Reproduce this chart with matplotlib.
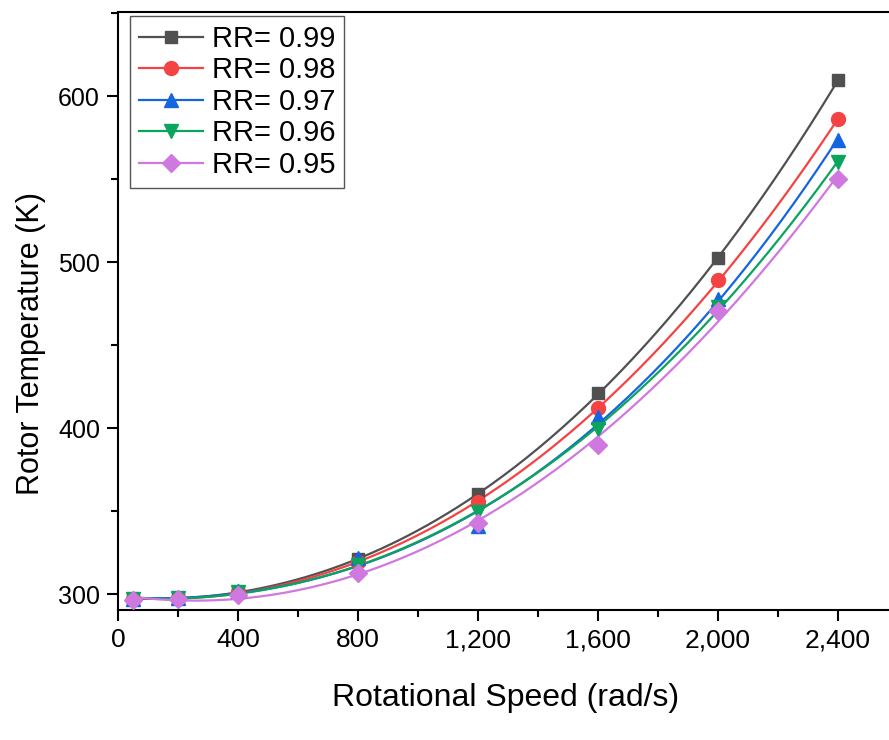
import numpy as np
import matplotlib
matplotlib.use("Agg")
import matplotlib.pyplot as plt
from matplotlib.ticker import MultipleLocator, FuncFormatter
from matplotlib import font_manager

speed = [50, 200, 400, 800, 1200, 1600, 2000, 2400]
rr_labels = ["RR= 0.99", "RR= 0.98", "RR= 0.97", "RR= 0.96", "RR= 0.95"]
temp_099 = [297.2, 297.6, 301.5, 321.0, 360.0, 421.0, 502.5, 609.5]
temp_098 = [297.0, 297.5, 301.0, 319.5, 355.5, 412.0, 489.0, 586.0]
temp_097 = [296.8, 297.4, 301.8, 321.5, 341.0, 406.5, 477.5, 573.5]
temp_096 = [297.0, 297.4, 301.0, 317.5, 349.5, 399.5, 473.0, 560.0]
temp_095 = [296.5, 296.8, 299.5, 312.5, 343.0, 390.0, 470.8, 550.0]

series = [temp_099, temp_098, temp_097, temp_096, temp_095]
colors = ["#505050", "#F54242", "#1565E0", "#0BA45C", "#CE78E0"]
markers = ["s", "o", "^", "v", "D"]
msizes = [9, 10, 10, 10, 9]

names = {f.name for f in font_manager.fontManager.ttflist}
narrow = "Liberation Sans Narrow" if "Liberation Sans Narrow" in names else "Liberation Sans"
plt.rcParams["font.family"] = ["Liberation Sans", "DejaVu Sans"]

fig = plt.figure(figsize=(8.89, 7.40), dpi=100)
ax = fig.add_axes([118 / 889, 130 / 740, 782 / 889, 598 / 740])

xs = np.linspace(speed[0], speed[-1], 300)
for y, c, m, ms, lab in zip(series, colors, markers, msizes, rr_labels):
    # smooth fitted curve through the points, markers at the data
    coef = np.polyfit(speed, y, 3)
    ax.plot(xs, np.polyval(coef, xs), color=c, lw=1.6, zorder=2)
    ax.plot(speed, y, linestyle="none", marker=m, ms=ms, color=c, zorder=3)
    ax.plot([], [], color=c, lw=1.6, marker=m, ms=ms, label=lab)

ax.set_xlim(0, 782 / 0.3)
ax.set_ylim(290.4, 650.6)

ax.xaxis.set_major_locator(MultipleLocator(400))
ax.xaxis.set_minor_locator(MultipleLocator(200))
ax.yaxis.set_major_locator(MultipleLocator(100))
ax.yaxis.set_minor_locator(MultipleLocator(50))
ax.xaxis.set_major_formatter(FuncFormatter(lambda v, p: f"{int(v):,}"))

ax.tick_params(which="major", direction="out", length=8, width=1.5, labelsize=18, pad=5)
ax.tick_params(which="minor", direction="out", length=5, width=1.5)
for lbl in ax.get_xticklabels():
    lbl.set_fontfamily(narrow)
    lbl.set_fontsize(19)
for s in ax.spines.values():
    s.set_linewidth(1.5)

ax.set_xlabel("Rotational Speed (rad/s)", fontsize=23)
ax.set_ylabel("Rotor Temperature (K)", fontsize=22)
ax.xaxis.set_label_coords(0.496, -0.122)
ax.yaxis.set_label_coords(-0.092, 0.445)

leg = ax.legend(loc="upper left", bbox_to_anchor=(12 / 782, 1 - 4 / 598), borderaxespad=0,
                fontsize=21, fancybox=False, edgecolor="#555555", framealpha=1,
                handlelength=2.2, handletextpad=0.3, labelspacing=0.12, borderpad=0.3)
leg.get_frame().set_linewidth(1.0)

fig.savefig("out.png", dpi=100)
